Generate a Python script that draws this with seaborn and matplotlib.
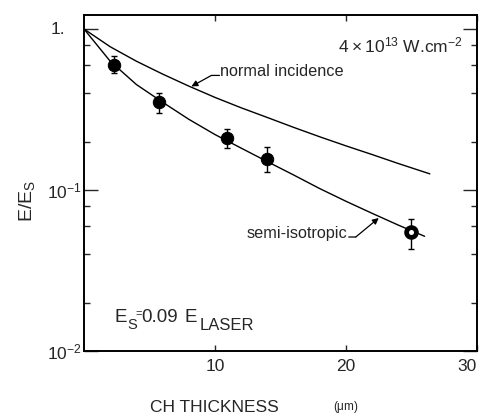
import numpy as np
import pandas as pd
import matplotlib
matplotlib.use("Agg")
import matplotlib.pyplot as plt
import matplotlib.transforms as mtransforms
import seaborn as sns
from matplotlib.ticker import FixedLocator, FixedFormatter, NullFormatter

# measured points (semi-isotropic target)
thickness = [2.3, 5.7, 10.9, 14.0, 25.0]
ratio = [0.596, 0.350, 0.211, 0.156, 0.055]
err_low = [0.065, 0.047, 0.028, 0.026, 0.012]
err_high = [0.082, 0.048, 0.029, 0.030, 0.011]

# model curves
normal_x = [0, 2, 4, 6, 8, 10, 12, 14, 16, 18, 20, 22, 24, 26.4]
normal_y = [1.0, 0.776, 0.631, 0.525, 0.442, 0.376, 0.324, 0.282, 0.245,
            0.214, 0.188, 0.166, 0.146, 0.126]
semi_x = [0, 2, 4, 6, 8, 10, 12, 14, 16, 18, 20, 22, 24, 26]
semi_y = [1.0, 0.631, 0.452, 0.351, 0.275, 0.221, 0.182, 0.150, 0.124,
          0.102, 0.0851, 0.0716, 0.0605, 0.0516]

y_ticks = [1.0, 0.1, 0.01]
y_tick_labels = ["", r"$10^{-1}$", r"$10^{-2}$"]
x_ticks = [10, 20, 30]

W, H = 481, 419


def px(x, y):
    return x / W, 1 - y / H


sns.set_style("ticks")
plt.rcParams["font.family"] = ["Liberation Sans", "DejaVu Sans"]
plt.rcParams["mathtext.fontset"] = "custom"
plt.rcParams["mathtext.rm"] = "Liberation Sans"
plt.rcParams["mathtext.default"] = "regular"

fig = plt.figure(figsize=(4.81, 4.19), dpi=100)
ax = fig.add_axes([84 / W, 1 - 351 / H, 393 / W, 336 / H])

curves = pd.concat([
    pd.DataFrame({"x": normal_x, "y": normal_y, "model": "normal"}),
    pd.DataFrame({"x": semi_x, "y": semi_y, "model": "semi"}),
])
sns.lineplot(data=curves, x="x", y="y", units="model", estimator=None,
             color="black", lw=1.0, ax=ax, legend=False)

ax.errorbar(thickness, ratio, yerr=[err_low, err_high], fmt="none",
            ecolor="black", elinewidth=1.0, capsize=2.5, capthick=1.0)
pts = pd.DataFrame({"x": thickness, "y": ratio})
sns.scatterplot(data=pts.iloc[:-1], x="x", y="y", color="black", s=80,
                edgecolor="black", ax=ax, zorder=5)
sns.scatterplot(data=pts.iloc[-1:], x="x", y="y", color="white", s=50,
                edgecolor="black", linewidth=3.4, ax=ax, zorder=5)

ax.set_yscale("log")
ax.set_xlim(0, 30)
ax.set_ylim(0.01, 1.222)
ax.yaxis.set_major_locator(FixedLocator(y_ticks))
ax.yaxis.set_major_formatter(FixedFormatter(y_tick_labels))
minors = [m * d for d in (0.01, 0.1) for m in (2, 4, 6, 8)]
ax.yaxis.set_minor_locator(FixedLocator(minors))
ax.yaxis.set_minor_formatter(NullFormatter())
ax.xaxis.set_major_locator(FixedLocator(x_ticks))
ax.set_xlabel("")
ax.set_ylabel("")

for s in ax.spines.values():
    s.set_linewidth(1.4)
    s.set_color("black")
ax.tick_params(axis="y", which="major", direction="in", length=10, width=1.0,
               left=True, right=True, labelsize=12.5, pad=1.5)
ax.tick_params(axis="y", which="minor", direction="in", length=4, width=1.0,
               left=True, right=True)
ax.tick_params(axis="x", which="major", direction="in", length=4.5, width=1.0,
               top=True, bottom=True, labelsize=12.5, pad=6)
fig.canvas.draw()
ax.get_xticklabels()[-1].set_horizontalalignment("right")

# "1." label sits further from the axis
ax.text(-0.048, 1.0, "1.", transform=mtransforms.blended_transform_factory(
    ax.transAxes, ax.transData), fontsize=12.5, ha="right", va="center")


def shifted(dx, dy):
    # data position shifted by dx, dy pixels (dy positive = down)
    return mtransforms.offset_copy(ax.transData, fig=fig, x=dx, y=-dy,
                                   units="dots")


arrow = dict(arrowstyle="-|>", color="black", lw=0.9, mutation_scale=9,
             shrinkA=0, shrinkB=0)
tail = dict(arrowstyle="-", color="black", lw=0.9, shrinkA=0, shrinkB=0)

# normal incidence label: arrow tip on the curve, short horizontal tail
n_tip = (8.2, 0.44)
ax.annotate("", xy=n_tip, xytext=n_tip, textcoords=shifted(20, -11),
            arrowprops=arrow)
ax.annotate("", xy=n_tip, xycoords=shifted(28, -11), xytext=n_tip,
            textcoords=shifted(20, -11), arrowprops=tail)
ax.text(*n_tip, "normal incidence", transform=shifted(29, -10),
        fontsize=11.7, ha="left", va="baseline")

s_tip = (22.5, 0.067)
ax.annotate("", xy=s_tip, xytext=s_tip, textcoords=shifted(-23, 19),
            arrowprops=arrow)
ax.annotate("", xy=s_tip, xycoords=shifted(-30, 19), xytext=s_tip,
            textcoords=shifted(-23, 19), arrowprops=tail)
ax.text(*s_tip, "semi-isotropic", transform=shifted(-31, 20),
        fontsize=11.7, ha="right", va="baseline")

fig.text(*px(463, 45), r"$4\times10^{13}$ W.cm$^{-2}$", fontsize=12.5,
         ha="right", va="center")

# E_S = 0.09 E_LASER, built from pieces to keep the loose spacing
fig.text(*px(115, 317), "E", fontsize=13.5, ha="left", va="center")
fig.text(*px(127, 325), "S", fontsize=10.5, ha="left", va="center")
fig.text(*px(135, 314), "=", fontsize=8, ha="left", va="center")
fig.text(*px(141, 317), "0.09", fontsize=13.5, ha="left", va="center")
fig.text(*px(185, 317), "E", fontsize=13.5, ha="left", va="center")
fig.text(*px(200, 325), "LASER", fontsize=12, ha="left", va="center")

fig.text(*px(27, 201), r"E/E$_S$", rotation=90, fontsize=14,
         ha="center", va="center")
fig.text(*px(150, 407), "CH THICKNESS", fontsize=12.5, ha="left",
         va="center")
fig.text(*px(333, 407), r"($\mu$m)", fontsize=8.5, ha="left", va="center")

fig.savefig("out.png", dpi=100)
